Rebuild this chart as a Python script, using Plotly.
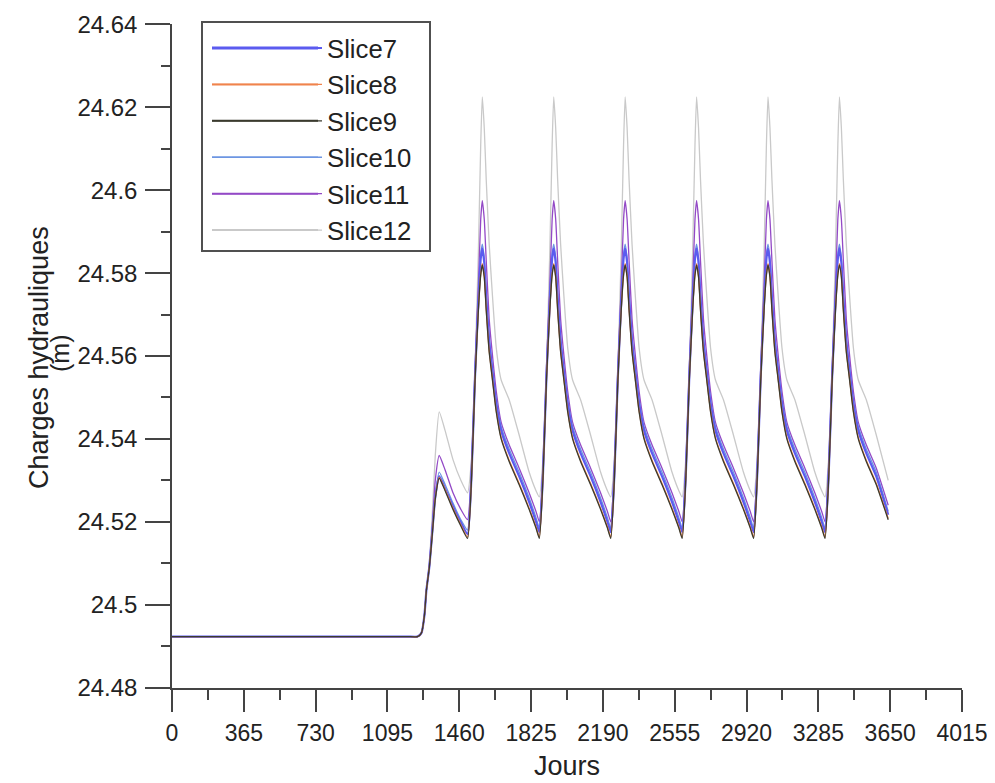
import plotly.graph_objects as go

# ---------------- data ----------------
days = [
    0, 400, 800, 1100, 1200, 1248, 1268, 1283, 1293, 1308, 1323, 1338, 1358, 1388, 1428, 1468, 1502,
    1522, 1540, 1557, 1569, 1577, 1587, 1597, 1612, 1628, 1648, 1673, 1714, 1764, 1815, 1850, 1867,
    1885, 1903, 1920, 1932, 1940, 1950, 1960, 1975, 1991, 2011, 2036, 2077, 2127, 2178, 2213, 2230,
    2248, 2266, 2283, 2295, 2303, 2313, 2323, 2338, 2354, 2374, 2399, 2440, 2490, 2541, 2576, 2593,
    2611, 2629, 2646, 2658, 2666, 2676, 2686, 2701, 2717, 2737, 2762, 2803, 2853, 2904, 2939, 2956,
    2974, 2992, 3009, 3021, 3029, 3039, 3049, 3064, 3080, 3100, 3125, 3166, 3216, 3267, 3302, 3319,
    3337, 3355, 3372, 3384, 3392, 3402, 3412, 3427, 3443, 3463, 3488, 3529, 3579, 3640,
]

slice7 = [
    24.4923, 24.4923, 24.4923, 24.4923, 24.4923, 24.4923, 24.4932, 24.4975, 24.5035, 24.5092, 24.5177, 24.526, 24.531, 24.528, 24.5237, 24.5198, 24.517,
    24.531, 24.555, 24.573, 24.5835, 24.586, 24.5825, 24.574, 24.5635, 24.5565, 24.5485, 24.542, 24.5365, 24.531, 24.5248, 24.520, 24.5175,
    24.531, 24.555, 24.573, 24.5835, 24.586, 24.5825, 24.574, 24.5635, 24.5565, 24.5485, 24.542, 24.5365, 24.531, 24.5248, 24.520, 24.5175,
    24.531, 24.555, 24.573, 24.5835, 24.586, 24.5825, 24.574, 24.5635, 24.5565, 24.5485, 24.542, 24.5365, 24.531, 24.5248, 24.520, 24.5175,
    24.531, 24.555, 24.573, 24.5835, 24.586, 24.5825, 24.574, 24.5635, 24.5565, 24.5485, 24.542, 24.5365, 24.531, 24.5248, 24.520, 24.5175,
    24.531, 24.555, 24.573, 24.5835, 24.586, 24.5825, 24.574, 24.5635, 24.5565, 24.5485, 24.542, 24.5365, 24.531, 24.5248, 24.520, 24.5175,
    24.531, 24.555, 24.573, 24.5835, 24.586, 24.5825, 24.574, 24.5635, 24.5565, 24.5485, 24.542, 24.5365, 24.531, 24.5217,
]

slice8 = [
    24.4923, 24.4923, 24.4923, 24.4923, 24.4923, 24.4923, 24.4932, 24.4975, 24.5035, 24.5092, 24.5173, 24.5258, 24.5308, 24.5278, 24.5233, 24.5193, 24.5163,
    24.5303, 24.5543, 24.5713, 24.5798, 24.5823, 24.5793, 24.5713, 24.5613, 24.5548, 24.5468, 24.5403, 24.5348, 24.5293, 24.5233, 24.5188, 24.5163,
    24.5303, 24.5543, 24.5713, 24.5798, 24.5823, 24.5793, 24.5713, 24.5613, 24.5548, 24.5468, 24.5403, 24.5348, 24.5293, 24.5233, 24.5188, 24.5163,
    24.5303, 24.5543, 24.5713, 24.5798, 24.5823, 24.5793, 24.5713, 24.5613, 24.5548, 24.5468, 24.5403, 24.5348, 24.5293, 24.5233, 24.5188, 24.5163,
    24.5303, 24.5543, 24.5713, 24.5798, 24.5823, 24.5793, 24.5713, 24.5613, 24.5548, 24.5468, 24.5403, 24.5348, 24.5293, 24.5233, 24.5188, 24.5163,
    24.5303, 24.5543, 24.5713, 24.5798, 24.5823, 24.5793, 24.5713, 24.5613, 24.5548, 24.5468, 24.5403, 24.5348, 24.5293, 24.5233, 24.5188, 24.5163,
    24.5303, 24.5543, 24.5713, 24.5798, 24.5823, 24.5793, 24.5713, 24.5613, 24.5548, 24.5468, 24.5403, 24.5348, 24.5293, 24.5208,
]

slice9 = [
    24.4923, 24.4923, 24.4923, 24.4923, 24.4923, 24.4923, 24.4932, 24.4975, 24.5035, 24.509, 24.517, 24.5255, 24.5305, 24.5275, 24.523, 24.519, 24.516,
    24.530, 24.554, 24.571, 24.5795, 24.582, 24.579, 24.571, 24.561, 24.5545, 24.5465, 24.540, 24.5345, 24.529, 24.523, 24.5185, 24.516,
    24.530, 24.554, 24.571, 24.5795, 24.582, 24.579, 24.571, 24.561, 24.5545, 24.5465, 24.540, 24.5345, 24.529, 24.523, 24.5185, 24.516,
    24.530, 24.554, 24.571, 24.5795, 24.582, 24.579, 24.571, 24.561, 24.5545, 24.5465, 24.540, 24.5345, 24.529, 24.523, 24.5185, 24.516,
    24.530, 24.554, 24.571, 24.5795, 24.582, 24.579, 24.571, 24.561, 24.5545, 24.5465, 24.540, 24.5345, 24.529, 24.523, 24.5185, 24.516,
    24.530, 24.554, 24.571, 24.5795, 24.582, 24.579, 24.571, 24.561, 24.5545, 24.5465, 24.540, 24.5345, 24.529, 24.523, 24.5185, 24.516,
    24.530, 24.554, 24.571, 24.5795, 24.582, 24.579, 24.571, 24.561, 24.5545, 24.5465, 24.540, 24.5345, 24.529, 24.5205,
]

slice10 = [
    24.4923, 24.4923, 24.4923, 24.4923, 24.4923, 24.4923, 24.4932, 24.4975, 24.5035, 24.5093, 24.518, 24.5265, 24.532, 24.529, 24.5245, 24.5205, 24.518,
    24.5315, 24.5555, 24.5735, 24.5845, 24.587, 24.5835, 24.575, 24.5645, 24.5575, 24.5495, 24.543, 24.5375, 24.532, 24.5258, 24.521, 24.5185,
    24.5315, 24.5555, 24.5735, 24.5845, 24.587, 24.5835, 24.575, 24.5645, 24.5575, 24.5495, 24.543, 24.5375, 24.532, 24.5258, 24.521, 24.5185,
    24.5315, 24.5555, 24.5735, 24.5845, 24.587, 24.5835, 24.575, 24.5645, 24.5575, 24.5495, 24.543, 24.5375, 24.532, 24.5258, 24.521, 24.5185,
    24.5315, 24.5555, 24.5735, 24.5845, 24.587, 24.5835, 24.575, 24.5645, 24.5575, 24.5495, 24.543, 24.5375, 24.532, 24.5258, 24.521, 24.5185,
    24.5315, 24.5555, 24.5735, 24.5845, 24.587, 24.5835, 24.575, 24.5645, 24.5575, 24.5495, 24.543, 24.5375, 24.532, 24.5258, 24.521, 24.5185,
    24.5315, 24.5555, 24.5735, 24.5845, 24.587, 24.5835, 24.575, 24.5645, 24.5575, 24.5495, 24.543, 24.5375, 24.532, 24.5225,
]

slice11 = [
    24.4923, 24.4923, 24.4923, 24.4923, 24.4923, 24.4923, 24.4932, 24.4975, 24.5035, 24.5095, 24.519, 24.530, 24.536, 24.5325, 24.527, 24.523, 24.5205,
    24.533, 24.557, 24.577, 24.593, 24.5975, 24.593, 24.583, 24.569, 24.5605, 24.5515, 24.544, 24.5385, 24.533, 24.527, 24.5225, 24.520,
    24.533, 24.557, 24.577, 24.593, 24.5975, 24.593, 24.583, 24.569, 24.5605, 24.5515, 24.544, 24.5385, 24.533, 24.527, 24.5225, 24.520,
    24.533, 24.557, 24.577, 24.593, 24.5975, 24.593, 24.583, 24.569, 24.5605, 24.5515, 24.544, 24.5385, 24.533, 24.527, 24.5225, 24.520,
    24.533, 24.557, 24.577, 24.593, 24.5975, 24.593, 24.583, 24.569, 24.5605, 24.5515, 24.544, 24.5385, 24.533, 24.527, 24.5225, 24.520,
    24.533, 24.557, 24.577, 24.593, 24.5975, 24.593, 24.583, 24.569, 24.5605, 24.5515, 24.544, 24.5385, 24.533, 24.527, 24.5225, 24.520,
    24.533, 24.557, 24.577, 24.593, 24.5975, 24.593, 24.583, 24.569, 24.5605, 24.5515, 24.544, 24.5385, 24.533, 24.524,
]

slice12 = [
    24.4923, 24.4923, 24.4923, 24.4923, 24.4923, 24.4923, 24.4932, 24.4975, 24.5035, 24.510, 24.522, 24.536, 24.5465, 24.542, 24.535, 24.530, 24.527,
    24.535, 24.557, 24.585, 24.611, 24.6225, 24.615, 24.6025, 24.587, 24.575, 24.562, 24.5542, 24.5494, 24.541, 24.532, 24.5275, 24.526,
    24.535, 24.557, 24.585, 24.611, 24.6225, 24.615, 24.6025, 24.587, 24.575, 24.562, 24.5542, 24.5494, 24.541, 24.532, 24.5275, 24.526,
    24.535, 24.557, 24.585, 24.611, 24.6225, 24.615, 24.6025, 24.587, 24.575, 24.562, 24.5542, 24.5494, 24.541, 24.532, 24.5275, 24.526,
    24.535, 24.557, 24.585, 24.611, 24.6225, 24.615, 24.6025, 24.587, 24.575, 24.562, 24.5542, 24.5494, 24.541, 24.532, 24.5275, 24.526,
    24.535, 24.557, 24.585, 24.611, 24.6225, 24.615, 24.6025, 24.587, 24.575, 24.562, 24.5542, 24.5494, 24.541, 24.532, 24.5275, 24.526,
    24.535, 24.557, 24.585, 24.611, 24.6225, 24.615, 24.6025, 24.587, 24.575, 24.562, 24.5542, 24.5494, 24.541, 24.530,
]

series_names = ["Slice7", "Slice8", "Slice9", "Slice10", "Slice11", "Slice12"]
series_values = [slice7, slice8, slice9, slice10, slice11, slice12]

x_tick_vals = [0, 365, 730, 1095, 1460, 1825, 2190, 2555, 2920, 3285, 3650, 4015]
x_tick_text = ["0", "365", "730", "1095", "1460", "1825", "2190", "2555", "2920", "3285", "3650", "4015"]
y_tick_vals = [24.48, 24.5, 24.52, 24.54, 24.56, 24.58, 24.6, 24.62, 24.64]
y_tick_text = ["24.48", "24.5", "24.52", "24.54", "24.56", "24.58", "24.6", "24.62", "24.64"]

# ---------------- styles ----------------
colors = {
    "Slice7": "#5b5bef",
    "Slice8": "#f0834c",
    "Slice9": "#3b3b2e",
    "Slice10": "#6d95e2",
    "Slice11": "#9349c6",
    "Slice12": "#c9c9c9",
}
widths = {"Slice7": 2.2, "Slice8": 1.3, "Slice9": 1.3, "Slice10": 1.3, "Slice11": 1.3, "Slice12": 1.3}
legend_widths = {"Slice7": 3, "Slice8": 2, "Slice9": 2, "Slice10": 1.5, "Slice11": 2, "Slice12": 2}
draw_order = ["Slice12", "Slice11", "Slice10", "Slice7", "Slice8", "Slice9"]

FONT = "Liberation Sans, Arial, sans-serif"
AXC = "#444444"
TXT = "#222222"

# page body has an 8 px margin: figure pixel = screen pixel - 8
OFF = 8
W, H = 987, 775
L, R, T, B = 164, 33, 16, 95
pw, ph = W - L - R, H - T - B


def sx(px):
    """screen x pixel -> paper x"""
    return (px - OFF - L) / pw


def sy(py):
    """screen y pixel -> paper y"""
    return 1 - (py - OFF - T) / ph


fig = go.Figure()
for name in draw_order:
    i = series_names.index(name)
    fig.add_trace(go.Scatter(
        x=days, y=series_values[i], name=name, mode="lines",
        line=dict(color=colors[name], width=widths[name], shape="spline", smoothing=0.5),
        legendrank=i + 1,
    ))

# legend frame and long sample lines (aligned with plotly's own legend rows)
LEG_FONT = 25.7
row_h = LEG_FONT * 1.3 + 3
leg_top = 24.8
legend_rows_y = [leg_top + 5 + row_h / 2 + k * row_h for k in range(len(series_names))]
shapes = [dict(type="rect", xref="paper", yref="paper",
               x0=sx(202), x1=sx(430), y0=sy(22), y1=sy(251),
               line=dict(color="#505050", width=2), fillcolor="rgba(0,0,0,0)", layer="above")]
for k, name in enumerate(series_names):
    yy = sy(legend_rows_y[k])
    shapes.append(dict(type="line", xref="paper", yref="paper",
                       x0=sx(212), x1=sx(318), y0=yy, y1=yy,
                       line=dict(color=colors[name], width=legend_widths[name]), layer="above"))

fig.update_layout(
    width=W, height=H,
    margin=dict(l=L, r=R, t=T, b=B, autoexpand=False),
    paper_bgcolor="white", plot_bgcolor="white",
    font=dict(family=FONT, size=24, color=TXT),
    showlegend=True,
    legend=dict(
        x=sx(207), y=sy(leg_top), xanchor="left", yanchor="top",
        bgcolor="rgba(0,0,0,0)", borderwidth=0,
        font=dict(family=FONT, size=LEG_FONT, color=TXT),
        itemwidth=110, tracegroupgap=0,
    ),
    shapes=shapes,
    xaxis=dict(
        range=[0, 4015], tickmode="array", tickvals=x_tick_vals, ticktext=x_tick_text,
        ticks="outside", ticklen=22, tickwidth=1.5, tickcolor=AXC,
        showline=True, linecolor=AXC, linewidth=1.5, showgrid=False, zeroline=False,
        tickfont=dict(family=FONT, size=23, color=TXT), ticklabelstandoff=2,
        minor=dict(ticks="outside", ticklen=10, tickwidth=1.5, tickcolor=AXC, dtick=182.5, tick0=0, showgrid=False),
        title=dict(text="Jours", font=dict(family=FONT, size=27, color=TXT), standoff=11),
        automargin=False,
    ),
    yaxis=dict(
        range=[24.4799, 24.6401], tickmode="array", tickvals=y_tick_vals, ticktext=y_tick_text,
        ticks="outside", ticklen=25, tickwidth=1.5, tickcolor=AXC,
        showline=True, linecolor=AXC, linewidth=1.5, showgrid=False, zeroline=False,
        tickfont=dict(family=FONT, size=24, color=TXT), ticklabelstandoff=3,
        minor=dict(ticks="outside", ticklen=9, tickwidth=1.5, tickcolor=AXC, dtick=0.01, tick0=24.48, showgrid=False),
        automargin=False,
    ),
    annotations=[
        dict(text="Charges hydrauliques", xref="paper", yref="paper",
             x=sx(39), y=sy(358), textangle=-90, showarrow=False,
             xanchor="center", yanchor="middle", font=dict(family=FONT, size=27, color=TXT)),
        dict(text="(m)", xref="paper", yref="paper",
             x=sx(60), y=sy(354), textangle=-90, showarrow=False,
             xanchor="center", yanchor="middle", font=dict(family=FONT, size=25, color=TXT)),
    ],
)

fig.write_html("out.html")
